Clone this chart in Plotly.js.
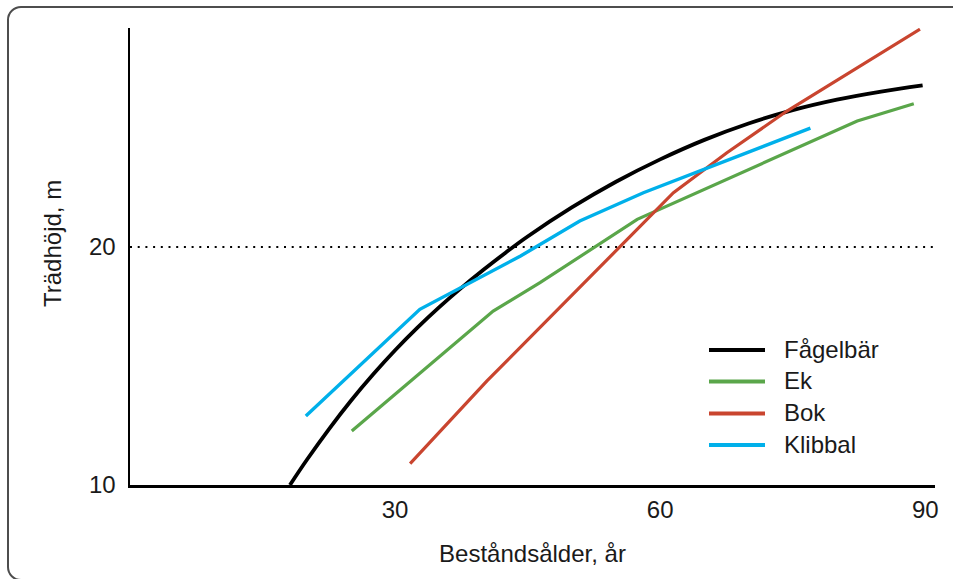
<!DOCTYPE html>
<html><head><meta charset="utf-8">
<script src="https://cdn.plot.ly/plotly-3.0.1.min.js"></script>
<style>
body{margin:0;background:#fff;}
#frame{position:absolute;left:7px;top:6px;width:980px;height:571px;border:2px solid #4d4d4d;border-radius:14px;}
#chart{position:absolute;left:0;top:0;width:953px;height:579px;}
</style>
</head><body>
<div id="frame"></div>
<div id="chart"></div>
<script>
// Data
const seriesNames = ["Fågelbär", "Ek", "Bok", "Klibbal"];
const fagelbarAge = [18.1, 20, 22.5, 25, 27.5, 30, 32.5, 35, 37.5, 40, 42.5, 45, 50, 55, 60, 65, 70, 75, 80, 85, 89.7];
const fagelbarHeight = [10.0, 11.05, 12.34, 13.54, 14.64, 15.66, 16.6, 17.47, 18.28, 19.04, 19.76, 20.44, 21.66, 22.74, 23.68, 24.5, 25.19, 25.75, 26.19, 26.53, 26.79];
const ekAge = [25.1, 41.1, 46.4, 57.4, 82.3, 88.7];
const ekHeight = [12.27, 17.31, 18.5, 21.16, 25.29, 26.02];
const bokAge = [31.7, 40.4, 61.5, 67.55, 74.3, 89.4];
const bokHeight = [10.9, 14.37, 22.28, 23.96, 25.7, 29.15];
const klibbalAge = [19.9, 32.8, 44.2, 50.9, 58.1, 77.0];
const klibbalHeight = [12.9, 17.38, 19.62, 21.09, 22.28, 24.99];
const xTicks = [30, 60, 90];
const yTicks = [10, 20];
const referenceHeight = 20;
const xTitle = "Beståndsålder, år";
const yTitle = "Trädhöjd, m";

const colors = ["#000000", "#5aa64a", "#c9452f", "#00b0ea"];
const widths = [3.8, 3.2, 3.2, 3.4];
const font = "Liberation Sans, Arial, sans-serif";
const textColor = "#1a1a1a";

const xs = [fagelbarAge, ekAge, bokAge, klibbalAge];
const ys = [fagelbarHeight, ekHeight, bokHeight, klibbalHeight];

const traces = seriesNames.map((n, i) => ({
  type: "scatter", mode: "lines", name: n, x: xs[i], y: ys[i],
  line: {color: colors[i], width: widths[i], shape: i === 0 ? "spline" : "linear", smoothing: 1},
  hoverinfo: "skip"
}));

// plot area in px: x 130..935, y 28..485
const L = 130, R = 935, T = 28, B = 485;
const px2x = p => (p - L) / (R - L);
const px2y = p => (B - p) / (B - T);

const legendY = [349, 380.5, 412.5, 444];
const shapes = [{
  type: "line", xref: "paper", yref: "y", x0: 0, x1: 1, y0: referenceHeight, y1: referenceHeight,
  line: {color: "#000", width: 2, dash: "2px,5.7px"}, layer: "below"
}];
const annotations = [];
seriesNames.forEach((n, i) => {
  shapes.push({type: "line", xref: "paper", yref: "paper", x0: px2x(709), x1: px2x(765),
    y0: px2y(legendY[i] + 1), y1: px2y(legendY[i] + 1), line: {color: colors[i], width: 4}});
  annotations.push({text: n, xref: "paper", yref: "paper", x: px2x(782), y: px2y(legendY[i]),
    xanchor: "left", yanchor: "middle", showarrow: false, font: {family: font, size: 24, color: textColor}});
});
annotations.push({text: yTitle, xref: "paper", yref: "paper", x: px2x(52), y: px2y(244),
  xanchor: "center", yanchor: "middle", textangle: -90, showarrow: false,
  font: {family: font, size: 24, color: textColor}});

const layout = {
  width: 953, height: 579,
  margin: {l: L, r: 953 - R, t: T, b: 579 - B},
  paper_bgcolor: "rgba(0,0,0,0)", plot_bgcolor: "rgba(0,0,0,0)",
  showlegend: false,
  font: {family: font, size: 24, color: textColor},
  xaxis: {range: [0, 91.1], tickvals: xTicks, ticks: "", showgrid: false, zeroline: false,
    showline: true, linecolor: "#000", linewidth: 2.5, ticklabelstandoff: 2,
    tickfont: {family: font, size: 24, color: textColor},
    title: {text: xTitle, font: {family: font, size: 24, color: textColor}, standoff: 23}},
  yaxis: {range: [10, 29.2], tickvals: yTicks, ticks: "", showgrid: false, zeroline: false,
    showline: true, linecolor: "#000", linewidth: 2.5, ticklabelstandoff: 7,
    tickfont: {family: font, size: 24, color: textColor}},
  shapes: shapes, annotations: annotations
};
Plotly.newPlot("chart", traces, layout, {displayModeBar: false, staticPlot: true});
</script>
</body></html>
